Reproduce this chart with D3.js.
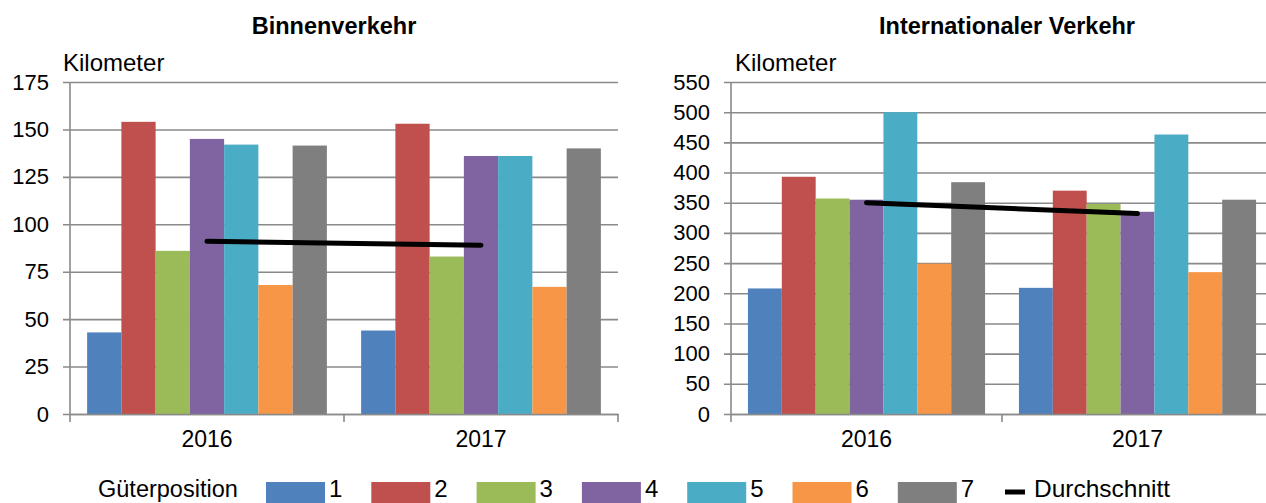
<!DOCTYPE html>
<html>
<head>
<meta charset="utf-8">
<script src="https://cdn.jsdelivr.net/npm/d3@7"></script>
<style>
    body { margin: 0; background: #fff; }
    svg { display: block; font-family: "Liberation Sans", Arial, sans-serif; }
</style>
</head>
<body>
<div id="container"></div>
<script>
const WIDTH = 1266;
const HEIGHT = 503;

// 数据
const years = ["2016", "2017"];
const positions = ["1", "2", "3", "4", "5", "6", "7"];
const colors = ["#4F81BD", "#C0504D", "#9BBB59", "#8064A2", "#4BACC6", "#F79646", "#7F7F7F"];

// Binnenverkehr, je Güterposition [2016, 2017]
const binnenValues = [
    [43, 44],
    [154, 153],
    [86, 83],
    [145, 136],
    [142, 136],
    [68, 67],
    [141.5, 140]
];
const binnenAverage = [91, 89];
const binnenTicks = [0, 25, 50, 75, 100, 125, 150, 175];

// Internationaler Verkehr
const interValues = [
    [208, 209],
    [393, 370],
    [357, 348],
    [355, 335],
    [500, 463],
    [249, 235],
    [384, 355]
];
const interAverage = [350, 332];
const interTicks = [0, 50, 100, 150, 200, 250, 300, 350, 400, 450, 500, 550];

let svg;

main();

function main() {
    svg = d3.select("#container")
        .append("svg")
        .attr("width", WIDTH)
        .attr("height", HEIGHT);
    drawChart({
        title: "Binnenverkehr",
        titleX: 334,
        values: binnenValues,
        average: binnenAverage,
        ticks: binnenTicks,
        x0: 70, x1: 618,
        labelX: 63
    });
    drawChart({
        title: "Internationaler Verkehr",
        titleX: 1007,
        values: interValues,
        average: interAverage,
        ticks: interTicks,
        x0: 731, x1: 1273,
        labelX: 735
    });
    drawLegend();
}

// 单个图表
function drawChart(c) {
    const top = 82, bottom = 414;
    const g = svg.append("g");
    const y = d3.scaleLinear()
        .domain([0, c.ticks[c.ticks.length - 1]])
        .range([bottom, top]);
    const x = d3.scaleBand().domain(years).range([c.x0, c.x1]);
    const bw = x.bandwidth();
    const xs = d3.scaleBand()
        .domain(positions)
        .range([bw / 16, bw * 15 / 16]);

    // 网格线 + 刻度
    const yAxis = d3.axisLeft(y)
        .tickValues(c.ticks)
        .tickSize(-(c.x1 - c.x0) - 7)
        .tickPadding(14)
        .tickFormat(d3.format("d"));
    const ya = g.append("g")
        .attr("transform", `translate(${c.x0 - 7},0)`)
        .call(yAxis);
    ya.select(".domain").remove();
    ya.selectAll(".tick line")
        .attr("stroke", "#8a8a8a")
        .attr("stroke-width", 1.6);
    ya.selectAll(".tick text")
        .attr("font-size", 22)
        .attr("fill", "#000");

    // y 轴线
    g.append("line")
        .attr("x1", c.x0).attr("x2", c.x0)
        .attr("y1", top).attr("y2", bottom)
        .attr("stroke", "#8a8a8a")
        .attr("stroke-width", 1.6);

    // 柱子
    const groups = g.selectAll(".bars")
        .data(positions)
        .enter()
        .append("g")
        .attr("fill", (d, i) => colors[i]);
    groups.selectAll("rect")
        .data((d, i) => years.map((yr, j) => ({ yr, p: d, v: c.values[i][j] })))
        .enter()
        .append("rect")
        .attr("x", (d) => x(d.yr) + xs(d.p))
        .attr("width", xs.bandwidth())
        .attr("y", (d) => y(d.v))
        .attr("height", (d) => bottom - y(d.v));

    // x 轴
    const xAxis = d3.axisBottom(x).tickSize(0).tickPadding(17);
    const xa = g.append("g")
        .attr("transform", `translate(0,${bottom})`)
        .call(xAxis);
    xa.select(".domain")
        .attr("stroke", "#8a8a8a")
        .attr("stroke-width", 1.6);
    xa.selectAll(".tick text")
        .attr("font-size", 23)
        .attr("fill", "#000");
    // 分隔刻度
    g.selectAll(".sep")
        .data([c.x0, x(years[1]), c.x1])
        .enter()
        .append("line")
        .attr("x1", (d) => d).attr("x2", (d) => d)
        .attr("y1", bottom).attr("y2", bottom + 8)
        .attr("stroke", "#8a8a8a")
        .attr("stroke-width", 1.6);

    // 平均线
    const line = d3.line()
        .x((d, i) => x(years[i]) + bw / 2)
        .y((d) => y(d));
    g.append("path")
        .datum(c.average)
        .attr("d", line)
        .attr("fill", "none")
        .attr("stroke", "#000")
        .attr("stroke-width", 5)
        .attr("stroke-linecap", "round");

    // 标题
    g.append("text")
        .attr("x", c.titleX)
        .attr("y", 34)
        .attr("text-anchor", "middle")
        .attr("font-size", 23.5)
        .attr("font-weight", "bold")
        .text(c.title);
    g.append("text")
        .attr("x", c.labelX)
        .attr("y", 71)
        .attr("font-size", 24)
        .text("Kilometer");
}

// 图例
function drawLegend() {
    const lg = svg.append("g");
    const base = 497;
    lg.append("text")
        .attr("x", 98)
        .attr("y", base)
        .attr("font-size", 23.5)
        .text("Güterposition");
    const item = lg.selectAll(".item")
        .data(positions)
        .enter()
        .append("g")
        .attr("transform", (d, i) => `translate(${266 + i * 105.3},0)`);
    item.append("rect")
        .attr("x", 0).attr("y", 482)
        .attr("width", 59).attr("height", 22)
        .attr("fill", (d, i) => colors[i]);
    item.append("text")
        .attr("x", 63)
        .attr("y", base)
        .attr("font-size", 24)
        .text((d) => d);
    lg.append("line")
        .attr("x1", 1005).attr("x2", 1025)
        .attr("y1", 492).attr("y2", 492)
        .attr("stroke", "#000")
        .attr("stroke-width", 5);
    lg.append("text")
        .attr("x", 1034)
        .attr("y", base)
        .attr("font-size", 24.5)
        .text("Durchschnitt");
}
</script>
</body>
</html>
